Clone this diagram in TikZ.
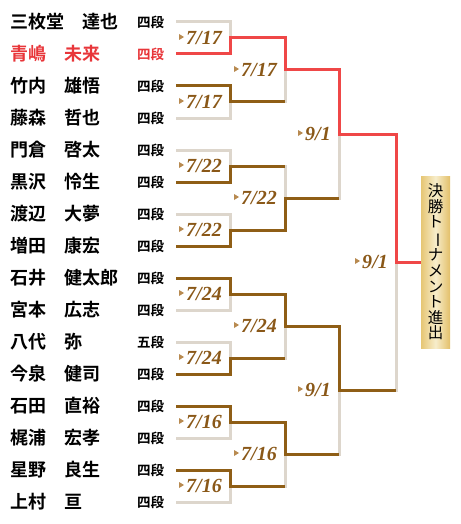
\documentclass[tikz,border=0pt]{standalone}
\usepackage{fontspec}
\newfontfamily\jp{Noto Sans CJK JP}[BoldFont={Noto Sans CJK JP Bold}]
\newfontfamily\dfont{Liberation Serif}
\definecolor{redc}{HTML}{EF4747}
\definecolor{namered}{HTML}{E8363A}
\definecolor{brownc}{HTML}{8F5E16}
\definecolor{grayc}{HTML}{DDD6CC}
\definecolor{datec}{HTML}{8A5818}
\definecolor{tric}{HTML}{B88A50}
\definecolor{goldL}{HTML}{E6C674}
\definecolor{goldM}{HTML}{F7EDCB}
\definecolor{goldR}{HTML}{E3C06A}
\begin{document}
\begin{tikzpicture}[x=1pt,y=-1pt,
  gline/.style={draw=grayc,line width=3pt},
  rline/.style={draw=redc,line width=3pt},
  bline/.style={draw=brownc,line width=3pt},
  datelbl/.style={anchor=east,inner sep=0pt,text=datec,font=\dfont\bfseries\itshape\fontsize{20}{20}\selectfont},
  sname/.style={anchor=west,inner sep=0pt,font=\jp\bfseries\fontsize{18}{18}\selectfont},
  rankl/.style={anchor=west,inner sep=0pt,font=\jp\bfseries\fontsize{13.5}{13.5}\selectfont},
  tri/.style={fill=tric},
  finalbox/.style={minimum width=29pt,minimum height=172pt,inner sep=0pt,
    left color=goldL,right color=goldR,middle color=goldM,align=center,
    font=\jp\fontsize{15.5}{15.6}\selectfont},
]
\useasboundingbox (0,0) rectangle (460,524);
% coordinates
\foreach \i in {1,...,16} \coordinate (p\i) at (176,{22+32*(\i-1)});
\foreach \i in {1,...,8} \coordinate (a\i) at (230,{38+64*(\i-1)});
\foreach \i in {1,...,4} \coordinate (b\i) at (285,{70+128*(\i-1)});
\foreach \i in {1,2} \coordinate (c\i) at (339,{134+256*(\i-1)});
\coordinate (d1) at (396,262);
% final box
\node[finalbox] (final) at (435.5,262) {決\\勝\\ト\\\rotatebox[origin=c]{-90}{ー}\\ナ\\メ\\ン\\ト\\進\\出};
% gray brackets
\draw[gline] (p1) -| (a1) |- (p2);
\draw[gline] (p3) -| (a2) |- (p4);
\draw[gline] (p5) -| (a3) |- (p6);
\draw[gline] (p7) -| (a4) |- (p8);
\draw[gline] (p9) -| (a5) |- (p10);
\draw[gline] (p11) -| (a6) |- (p12);
\draw[gline] (p13) -| (a7) |- (p14);
\draw[gline] (p15) -| (a8) |- (p16);
\draw[gline] (a1) -| (b1) |- (a2);
\draw[gline] (a3) -| (b2) |- (a4);
\draw[gline] (a5) -| (b3) |- (a6);
\draw[gline] (a7) -| (b4) |- (a8);
\draw[gline] (b1) -| (c1) |- (b2);
\draw[gline] (b3) -| (c2) |- (b4);
\draw[gline] (c1) -| (d1) |- (c2);
% winners
\draw[bline] (p3) -| (a2) -- (a2 -| b1);
\draw[bline] (p6) -| (a3) -- (a3 -| b2);
\draw[bline] (p8) -| (a4) -| (b2) -- (b2 -| c1);
\draw[bline] (p9) -| (a5) -| (b3) -| (c2) -- (c2 -| d1);
\draw[bline] (p12) -| (a6) -- (a6 -| b3);
\draw[bline] (p13) -| (a7) -| (b4) -- (b4 -| c2);
\draw[bline] (p15) -| (a8) -- (a8 -| b4);
\draw[rline] (p2) -| (a1) -| (b1) -| (c1) -| (d1) -- (final.west);
% date labels
\foreach \n/\m/\d in {a1/7/17,a2/7/17,a3/7/22,a4/7/22,a5/7/24,a6/7/24,a7/7/16,a8/7/16,
                      b1/7/17,b2/7/22,b3/7/24,b4/7/16,c1/9/1,c2/9/1,d1/9/1}{
  \node[datelbl] (l-\n) at ([xshift=-8pt]\n) {\m/\d};
  \fill[tri] ([xshift=-2pt,yshift=1pt]l-\n.west) -- ++(-5,-3) -- ++(0,6) -- cycle;
}
% names
\foreach \i/\s/\g/\r/\gx/\c in {1/三枚堂/達也/四段/82/black,2/青嶋/未来/四段/64/namered,
  3/竹内/雄悟/四段/64/black,4/藤森/哲也/四段/64/black,5/門倉/啓太/四段/64/black,
  6/黒沢/怜生/四段/64/black,7/渡辺/大夢/四段/64/black,8/増田/康宏/四段/64/black,
  9/石井/健太郎/四段/64/black,10/宮本/広志/四段/64/black,11/八代/弥/五段/64/black,
  12/今泉/健司/四段/64/black,13/石田/直裕/四段/64/black,14/梶浦/宏孝/四段/64/black,
  15/星野/良生/四段/64/black,16/上村/亘/四段/64/black}{
  \node[sname,text=\c] (s\i) at (10,{22+32*(\i-1)}) {\s};
  \node[sname,text=\c] (g\i) at (\gx,{22+32*(\i-1)}) {\g};
  \node[rankl,text=\c] (r\i) at (137,{22+32*(\i-1)}) {\r};
}
\end{tikzpicture}
\end{document}
